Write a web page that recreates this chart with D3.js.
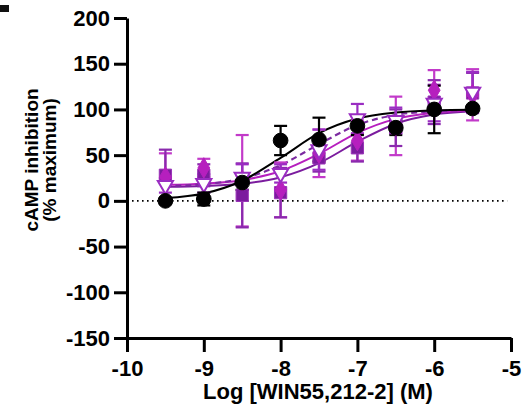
<!DOCTYPE html>
<html>
<head>
<meta charset="utf-8">
<script src="https://cdn.jsdelivr.net/npm/d3@7"></script>
<style>
  html, body { margin: 0; padding: 0; background: #fff; }
  svg { display: block; }
  text { font-family: "Liberation Sans", Arial, sans-serif; font-weight: bold; fill: #000; }
</style>
</head>
<body>
<svg id="chart" width="528" height="410"></svg>
<script>
// ---- data ----
const logDose = [-9.5, -9, -8.5, -8, -7.5, -7, -6.5, -6, -5.5];

const circleMean = [0, 2, 20, 66, 67, 82, 80, 100, 101];
const circleErr  = [3, 7, 8, 16, 24, 10, 8, 26, 3];

const squareMean = [28, 28, 6, 9, 47, 58, 80, 108, 118];
const squareErr  = [28, 12, 35, 27, 15, 15, 20, 24, 22];

const diamondMean = [26, 36, 22, 12, 52, 66, 82, 121, 116];
const diamondErr  = [26, 10, 50, 30, 26, 22, 32, 22, 28];

const triangleMean = [17, 19, 26, 30, 56, 90, 88, 107, 119];
const triangleErr  = [8, 10, 14, 10, 22, 16, 14, 20, 22];

// fitted curves, read at each half-log step
const curveCircle   = [3, 8, 22, 47, 74, 90, 96.6, 98.9, 99.6];
const curveDashed   = [16, 18.2, 24.5, 39, 62, 83, 94, 98, 99.3];
const curveMagenta  = [17.6, 18.8, 22.6, 32.6, 51.4, 74.4, 89.7, 96.4, 98.9];
const curvePurple   = [15.3, 16.2, 18.6, 25.9, 41.3, 64.7, 84.4, 94.4, 98];

const xTicks = [-10, -9, -8, -7, -6, -5];
const yTicks = [-150, -100, -50, 0, 50, 100, 150, 200];

// ---- drawing ----
const svg = d3.select("#chart");
const x = d3.scaleLinear().domain([-10, -5]).range([127, 511]);
const y = d3.scaleLinear().domain([-150, 200]).range([338, 18]);

const colSquare = "#7b1c9e";
const colSquareBar = "#8a2aad";
const colDiamond = "#b61fbe";
const colDiamondBar = "#c23ac9";
const colTriangle = "#9a2dc2";

// small mark at top-left (edge of neighbouring panel label)
svg.append("rect").attr("x", 0).attr("y", 5).attr("width", 9).attr("height", 7).attr("fill", "#111");

// dotted zero line
svg.append("line")
  .attr("x1", x(-10)).attr("x2", x(-5.05))
  .attr("y1", y(0)).attr("y2", y(0))
  .attr("stroke", "#000").attr("stroke-width", 1.6)
  .attr("stroke-dasharray", "1.6,3.4");

// curves
const line = d3.line().x((d, i) => x(logDose[i])).y(d => y(d)).curve(d3.curveMonotoneX);
function drawCurve(vals, color, dash, w) {
  svg.append("path").attr("d", line(vals)).attr("fill", "none")
    .attr("stroke", color).attr("stroke-width", w)
    .attr("stroke-dasharray", dash || null);
}
drawCurve(curvePurple, colSquare, null, 2);
drawCurve(curveMagenta, colDiamond, null, 2);
drawCurve(curveDashed, "#7b2aa0", "6,4", 2.2);
drawCurve(curveCircle, "#000", null, 2);

// error bars
function drawErr(mean, err, color) {
  const g = svg.append("g").attr("stroke", color).attr("stroke-width", 2.2).attr("fill", "none");
  logDose.forEach((d, i) => {
    const cx = x(d), top = y(mean[i] + err[i]), bot = y(mean[i] - err[i]);
    g.append("line").attr("x1", cx).attr("x2", cx).attr("y1", top).attr("y2", bot);
    g.append("line").attr("x1", cx - 6.5).attr("x2", cx + 6.5).attr("y1", top).attr("y2", top);
    g.append("line").attr("x1", cx - 6.5).attr("x2", cx + 6.5).attr("y1", bot).attr("y2", bot);
  });
}
drawErr(diamondMean, diamondErr, colDiamondBar);
drawErr(squareMean, squareErr, colSquareBar);
drawErr(triangleMean, triangleErr, colTriangle);
drawErr(circleMean, circleErr, "#000");

// markers
const sym = (type, size) => d3.symbol().type(type).size(size)();
function drawMarkers(mean, path, fill, stroke, sw, rot) {
  svg.append("g").selectAll("path").data(mean).join("path")
    .attr("d", path)
    .attr("transform", (d, i) => `translate(${x(logDose[i])},${y(d)})` + (rot ? ` rotate(${rot})` : ""))
    .attr("fill", fill).attr("stroke", stroke).attr("stroke-width", sw);
}
drawMarkers(squareMean, sym(d3.symbolSquare, 150), colSquare, "#9a33b8", 1, 0);
drawMarkers(diamondMean, sym(d3.symbolDiamond, 120), colDiamond, colDiamond, 1, 0);
drawMarkers(triangleMean, sym(d3.symbolTriangle, 100), "#fff", colTriangle, 2, 180);
drawMarkers(circleMean, sym(d3.symbolCircle, 170), "#000", "#000", 1, 0);

// axes
const yAxis = svg.append("g").attr("transform", `translate(${x(-10)},0)`)
  .call(d3.axisLeft(y).tickValues(yTicks).tickSize(13).tickSizeOuter(0).tickPadding(4).tickFormat(d => String(d)));
const xAxis = svg.append("g").attr("transform", `translate(0,${y(-150)})`)
  .call(d3.axisBottom(x).tickValues(xTicks).tickSize(14).tickSizeOuter(0).tickPadding(8).tickFormat(d => String(d)));

[yAxis, xAxis].forEach(a => {
  a.select(".domain").attr("stroke", "#000").attr("stroke-width", 3);
  a.selectAll(".tick line").attr("stroke", "#000").attr("stroke-width", 3);
  a.selectAll(".tick text").attr("fill", "#000")
    .style("font-family", "'Liberation Sans', Arial, sans-serif")
    .style("font-weight", "bold").style("font-size", "22px");
});

// axis titles
svg.append("text").attr("x", 318).attr("y", 399).attr("text-anchor", "middle")
  .style("font-size", "22px").text("Log [WIN55,212-2] (M)");

const yt = svg.append("text").attr("transform", "translate(38,160) rotate(-90)")
  .attr("text-anchor", "middle").style("font-size", "19px");
yt.append("tspan").attr("x", 0).attr("dy", 0).text("cAMP inhibition");
yt.append("tspan").attr("x", 0).attr("dy", 18).text("(% maximum)");
</script>
</body>
</html>
